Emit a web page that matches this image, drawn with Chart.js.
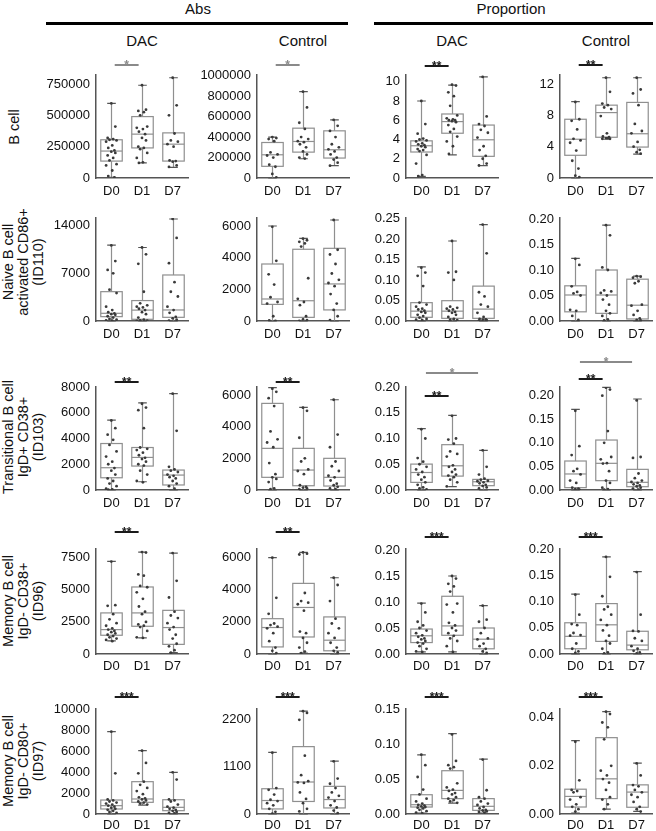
<!DOCTYPE html>
<html>
<head>
<meta charset="utf-8">
<script src="https://cdn.jsdelivr.net/npm/chart.js@4.4.1/dist/chart.umd.min.js"></script>
<style>
  body { margin: 0; background: #fff; }
  #page { position: relative; width: 656px; height: 831px; overflow: hidden;
          font-family: "Liberation Sans", Arial, sans-serif; color: #111; }
  #page canvas { position: absolute; }
  .txt { position: absolute; white-space: nowrap; transform: translate(-50%, -50%); }
  .rule { position: absolute; height: 3px; background: #000; }
  .rowlab { position: absolute; white-space: nowrap; text-align: center; font-size: 14.5px;
            line-height: 15px; transform: translate(-50%, -50%) rotate(-90deg); }
</style>
</head>
<body>
<div id="page"></div>
<script>
const days = ["D0", "D1", "D7"];

// box stats per day: [low whisker, q1, median, q3, high whisker]
// Row 1: B cell
const bcellAbsDacBox = [[5000, 135000, 215000, 305000, 595000], [120000, 240000, 350000, 490000, 740000], [85000, 135000, 270000, 360000, 800000]];
const bcellAbsDacPts = [
  [595000, 410000, 320000, 310000, 305000, 300000, 290000, 260000, 240000, 220000, 210000, 200000, 180000, 160000, 140000, 110000, 100000, 60000, 15000, 5000],
  [740000, 545000, 535000, 525000, 500000, 410000, 400000, 390000, 370000, 350000, 320000, 300000, 250000, 240000, 230000, 200000, 160000, 125000, 120000],
  [800000, 580000, 500000, 355000, 300000, 290000, 270000, 250000, 140000, 135000, 130000, 100000, 88000]];
const bcellAbsCtlBox = [[0, 114000, 227000, 347000, 400000], [188000, 253000, 357000, 487000, 844000], [120000, 195000, 276000, 461000, 568000]];
const bcellAbsCtlPts = [
  [400000, 390000, 380000, 360000, 250000, 230000, 220000, 200000, 130000, 110000, 40000, 5000],
  [844000, 690000, 540000, 480000, 400000, 380000, 360000, 350000, 330000, 300000, 260000, 230000, 200000, 190000],
  [568000, 510000, 460000, 400000, 330000, 300000, 280000, 260000, 230000, 200000, 180000, 150000, 120000]];
const bcellPropDacBox = [[0.17, 2.7, 3.35, 3.86, 8.0], [2.4, 4.65, 5.86, 6.65, 9.65], [1.28, 2.25, 3.97, 5.5, 10.5]];
const bcellPropDacPts = [
  [8.0, 5.6, 4.6, 4.1, 4.0, 3.9, 3.8, 3.6, 3.5, 3.4, 3.3, 3.2, 3.0, 2.9, 2.8, 2.4, 1.5, 0.3, 0.2],
  [9.7, 9.6, 8.9, 8.5, 7.5, 6.5, 6.2, 6.1, 6.0, 6.0, 5.9, 5.8, 5.5, 5.1, 4.8, 4.3, 3.8, 3.3, 2.5],
  [10.5, 6.4, 5.6, 5.4, 5.0, 4.7, 4.2, 3.3, 2.9, 2.3, 2.0, 1.5, 1.3]];
const bcellPropCtlBox = [[0, 2.9, 4.95, 7.5, 9.75], [4.95, 5.2, 8.35, 9.3, 12.8], [3.05, 3.95, 5.65, 9.65, 12.8]];
const bcellPropCtlPts = [
  [9.7, 7.5, 7.3, 6.2, 5.0, 4.8, 4.5, 3.5, 2.2, 1.2, 0.3, 0.1],
  [12.8, 11.0, 9.5, 9.3, 9.0, 8.8, 7.9, 5.7, 5.3, 5.2, 5.1, 5.0, 5.0, 5.1],
  [12.8, 11.3, 10.8, 9.3, 6.9, 6.0, 5.7, 4.6, 4.0, 3.6, 3.3, 3.1]];

// Row 2: Naive B cell activated CD86+
const naiveAbsDacBox = [[0, 640, 1130, 4310, 11160], [0, 250, 1600, 3000, 10800], [0, 540, 1620, 6760, 14980]];
const naiveAbsDacPts = [
  [11100, 8800, 7500, 7000, 4600, 4100, 2100, 1600, 1300, 1100, 1000, 900, 700, 500, 300, 200, 100, 50],
  [10800, 9800, 8400, 4300, 2600, 2300, 2100, 2000, 1800, 1600, 1300, 1000, 500, 200, 100, 50, 20],
  [15000, 12200, 8500, 5700, 4300, 3600, 2100, 1600, 1200, 600, 400, 200, 50]];
const naiveAbsCtlBox = [[0, 1050, 1390, 3600, 6000], [0, 230, 1280, 4530, 5220], [0, 700, 2340, 4590, 6380]];
const naiveAbsCtlPts = [
  [5950, 3800, 2950, 2300, 1500, 1200, 1100, 300, 30, 10],
  [5200, 5100, 5000, 4900, 4700, 2700, 1400, 1200, 1000, 300, 100, 50, 10],
  [6380, 4500, 4200, 3600, 3000, 2600, 2400, 2200, 1700, 1100, 700, 300, 50]];
const naivePropDacBox = [[0, 0.009, 0.024, 0.0447, 0.132], [0, 0.0065, 0.024, 0.0495, 0.195], [0, 0.0065, 0.029, 0.085, 0.235]];
const naivePropDacPts = [
  [0.13, 0.118, 0.11, 0.085, 0.045, 0.04, 0.035, 0.03, 0.028, 0.025, 0.022, 0.02, 0.015, 0.012, 0.008, 0.005, 0.003, 0.002],
  [0.195, 0.12, 0.118, 0.1, 0.035, 0.032, 0.03, 0.028, 0.025, 0.022, 0.02, 0.015, 0.01, 0.005, 0.003, 0.002],
  [0.235, 0.165, 0.07, 0.06, 0.04, 0.035, 0.02, 0.01, 0.005, 0.004, 0.003, 0.002, 0.001]];
const naivePropCtlBox = [[0, 0.018, 0.051, 0.069, 0.123], [0, 0.015, 0.051, 0.1, 0.188], [0, 0.004, 0.031, 0.082, 0.088]];
const naivePropCtlPts = [
  [0.122, 0.11, 0.068, 0.057, 0.054, 0.05, 0.022, 0.02, 0.01, 0.002],
  [0.188, 0.168, 0.105, 0.1, 0.06, 0.058, 0.055, 0.05, 0.042, 0.032, 0.02, 0.015, 0.01, 0.003, 0.001],
  [0.088, 0.087, 0.085, 0.078, 0.074, 0.032, 0.03, 0.02, 0.012, 0.005, 0.002, 0.001]];

// Row 3: Transitional B cell IgD+ CD38+
const transAbsDacBox = [[0, 950, 1730, 3610, 5420], [640, 1860, 2530, 3300, 6760], [0, 390, 1160, 1550, 7480]];
const transAbsDacPts = [
  [5400, 4800, 4300, 3900, 3500, 3000, 2600, 2200, 2000, 1700, 1500, 1200, 900, 700, 500, 300, 100, 50, 20],
  [6700, 6400, 6200, 4800, 3300, 3200, 3100, 2900, 2700, 2500, 2400, 2200, 2000, 1900, 1500, 1200, 700, 600],
  [7480, 4600, 1800, 1600, 1500, 1400, 1200, 1100, 1000, 900, 700, 500, 300, 100]];
const transAbsCtlBox = [[0, 800, 2630, 5470, 6460], [0, 270, 1260, 2630, 5220], [0, 250, 800, 2000, 5700]];
const transAbsCtlPts = [
  [6400, 6200, 5800, 5300, 3700, 3200, 3000, 2700, 1700, 1000, 800, 700, 500, 100, 50],
  [5200, 5000, 3300, 2000, 1800, 1300, 1200, 1000, 300, 200, 150, 100, 50],
  [5700, 3500, 2700, 1800, 1500, 1200, 900, 800, 600, 400, 300, 200, 100, 50]];
const transPropDacBox = [[0, 0.0148, 0.034, 0.0503, 0.119], [0.0065, 0.027, 0.047, 0.088, 0.145], [0, 0.0084, 0.016, 0.0206, 0.077]];
const transPropDacPts = [
  [0.118, 0.1, 0.062, 0.055, 0.05, 0.045, 0.04, 0.035, 0.03, 0.025, 0.02, 0.015, 0.01, 0.005, 0.003, 0.001],
  [0.144, 0.1, 0.098, 0.09, 0.075, 0.07, 0.065, 0.048, 0.045, 0.04, 0.035, 0.03, 0.028, 0.025, 0.02, 0.015, 0.007],
  [0.077, 0.045, 0.03, 0.022, 0.02, 0.018, 0.017, 0.015, 0.013, 0.01, 0.008, 0.005, 0.003]];
const transPropCtlBox = [[0, 0.005, 0.034, 0.0615, 0.171], [0, 0.0198, 0.0566, 0.106, 0.2178], [0, 0.007, 0.0163, 0.0438, 0.193]];
const transPropCtlPts = [
  [0.168, 0.093, 0.074, 0.045, 0.04, 0.033, 0.02, 0.015, 0.005, 0.003, 0.002, 0.001],
  [0.217, 0.213, 0.2, 0.125, 0.1, 0.07, 0.065, 0.057, 0.056, 0.04, 0.02, 0.015, 0.005, 0.002, 0.001],
  [0.19, 0.07, 0.068, 0.035, 0.025, 0.02, 0.017, 0.015, 0.012, 0.01, 0.008, 0.005, 0.003, 0.001]];

// Row 4: Memory B cell IgD- CD38+
const mem38AbsDacBox = [[1020, 1460, 1900, 3200, 7210], [1260, 2160, 3200, 5220, 7940], [100, 750, 2060, 3400, 7860]];
const mem38AbsDacPts = [
  [7200, 3800, 3750, 3100, 2700, 2400, 2200, 2000, 1900, 1800, 1700, 1600, 1500, 1400, 1300, 1200, 1100, 1000],
  [7940, 7900, 6200, 6100, 5300, 5200, 4800, 4300, 3700, 3300, 3100, 2500, 2300, 2200, 2100, 1800, 1300, 1250],
  [7860, 5700, 4400, 3300, 3000, 2800, 2400, 2100, 1900, 1500, 1200, 800, 600, 300, 100]];
const mem38AbsCtlBox = [[0, 440, 1650, 2200, 6000], [50, 1060, 2900, 4400, 6330], [0, 200, 860, 2310, 4750]];
const mem38AbsCtlPts = [
  [6000, 3500, 2500, 1900, 1800, 1700, 1600, 1300, 800, 400, 200, 50],
  [6330, 6250, 6200, 3800, 3300, 3200, 3100, 2700, 1400, 1300, 1000, 700, 400, 150, 50],
  [4750, 4300, 3300, 2200, 1900, 1600, 1300, 1000, 700, 400, 200, 100]];
const mem38PropDacBox = [[0.004, 0.022, 0.035, 0.048, 0.098], [0.004, 0.036, 0.054, 0.111, 0.15], [0, 0.01, 0.0285, 0.05, 0.093]];
const mem38PropDacPts = [
  [0.097, 0.08, 0.062, 0.055, 0.05, 0.045, 0.04, 0.036, 0.033, 0.03, 0.028, 0.025, 0.022, 0.02, 0.015, 0.01, 0.005, 0.004],
  [0.15, 0.145, 0.135, 0.13, 0.12, 0.097, 0.095, 0.08, 0.06, 0.055, 0.05, 0.045, 0.04, 0.035, 0.03, 0.025, 0.015, 0.004],
  [0.093, 0.066, 0.062, 0.05, 0.04, 0.03, 0.028, 0.02, 0.015, 0.01, 0.005, 0.002]];
const mem38PropCtlBox = [[0, 0.01, 0.0336, 0.0595, 0.114], [0, 0.024, 0.0556, 0.096, 0.185], [0, 0.008, 0.017, 0.0433, 0.157]];
const mem38PropCtlPts = [
  [0.113, 0.075, 0.057, 0.055, 0.04, 0.036, 0.035, 0.02, 0.01, 0.005, 0.002],
  [0.185, 0.147, 0.11, 0.09, 0.085, 0.075, 0.065, 0.055, 0.045, 0.035, 0.025, 0.02, 0.01, 0.003, 0.001],
  [0.156, 0.075, 0.044, 0.043, 0.03, 0.025, 0.015, 0.01, 0.006, 0.003, 0.001]];

// Row 5: Memory B cell IgD- CD80+
const mem80AbsDacBox = [[0, 480, 800, 1340, 7890], [860, 1120, 1440, 3100, 6070], [0, 320, 640, 1370, 4000]];
const mem80AbsDacPts = [
  [7890, 3900, 1400, 1300, 1200, 1100, 1000, 900, 800, 700, 600, 500, 400, 300, 200, 100],
  [6070, 4900, 3900, 3100, 2800, 2500, 2200, 1900, 1600, 1500, 1400, 1300, 1200, 1100, 1000, 900],
  [4000, 3300, 1400, 1300, 1200, 900, 700, 600, 500, 400, 300, 200, 100, 50]];
const mem80AbsCtlBox = [[0, 117, 312, 585, 1427], [0, 290, 741, 1560, 2380], [0, 140, 335, 640, 1225]];
const mem80AbsCtlPts = [
  [1420, 600, 560, 450, 330, 300, 250, 200, 120, 50, 10],
  [2380, 2340, 2180, 1350, 900, 760, 730, 720, 500, 350, 250, 120, 60],
  [1220, 820, 700, 600, 500, 420, 380, 300, 200, 150, 80, 20]];
const mem80PropDacBox = [[0.0014, 0.01, 0.0133, 0.0276, 0.0848], [0.0157, 0.022, 0.0338, 0.062, 0.115], [0.0014, 0.0052, 0.011, 0.022, 0.0785]];
const mem80PropDacPts = [
  [0.085, 0.07, 0.053, 0.035, 0.028, 0.022, 0.018, 0.015, 0.013, 0.012, 0.011, 0.01, 0.009, 0.008, 0.006, 0.004, 0.002, 0.001],
  [0.114, 0.076, 0.07, 0.067, 0.065, 0.044, 0.038, 0.035, 0.033, 0.03, 0.028, 0.024, 0.022, 0.02, 0.018, 0.016],
  [0.078, 0.034, 0.024, 0.022, 0.018, 0.015, 0.013, 0.01, 0.008, 0.006, 0.005, 0.004, 0.003, 0.002]];
const mem80PropCtlBox = [[0.0004, 0.0029, 0.0073, 0.0103, 0.0305], [0.002, 0.0064, 0.0146, 0.0317, 0.0425], [0.0011, 0.0028, 0.0091, 0.0121, 0.0211]];
const mem80PropCtlPts = [
  [0.03, 0.014, 0.01, 0.0095, 0.009, 0.007, 0.006, 0.004, 0.003, 0.002, 0.001],
  [0.0425, 0.0415, 0.038, 0.036, 0.031, 0.02, 0.018, 0.016, 0.0145, 0.013, 0.01, 0.007, 0.006, 0.004, 0.002],
  [0.021, 0.016, 0.012, 0.0115, 0.01, 0.009, 0.008, 0.007, 0.005, 0.003, 0.002, 0.001]];

// y tick labels
const ticksB1 = [0, 250000, 500000, 750000];
const ticksB2 = [0, 200000, 400000, 600000, 800000, 1000000];
const ticksB3 = [0, 2, 4, 6, 8, 10];
const ticksB4 = [0, 4, 8, 12];
const ticksN1 = [0, 7000, 14000];
const ticks6k = [0, 2000, 4000, 6000];
const ticksP25 = [0, 0.05, 0.10, 0.15, 0.20, 0.25];
const ticksP20 = [0, 0.05, 0.10, 0.15, 0.20];
const ticks8k = [0, 2000, 4000, 6000, 8000];
const ticks75 = [0, 2500, 5000, 7500];
const ticks10k = [0, 2000, 4000, 6000, 8000, 10000];
const ticks22 = [0, 1100, 2200];
const ticksP15 = [0, 0.05, 0.10, 0.15];
const ticksP04 = [0, 0.02, 0.04];

const rowLabels = [["B cell"], ["Naive B cell", "activated CD86+", "(ID110)"],
  ["Transitional B cell", "IgD+ CD38+", "(ID103)"], ["Memory B cell", "IgD- CD38+", "(ID96)"],
  ["Memory B cell", "IgD- CD80+", "(ID97)"]];

// layout (page pixels)
const colAxisX = [96, 257, 406, 560];
const plotW = 92;
const rowTop = [75, 218, 387, 549, 709];
const rowBot = [178, 321, 490, 654, 814];
const xLabelPad = [6, 6, 6, 5, 4];
const Y_AXIS_W = 70, PAD_TOP = 60, X_AXIS_H = 28, PAD_RIGHT = 6;
const JITTER = [0, 0.13, -0.12, 0.06, -0.06, 0.17, -0.17, 0.03, -0.1, 0.1];

// sig: [from, to, label, offset above plot top]
const panels = [
  { r: 0, c: 0, box: bcellAbsDacBox, pts: bcellAbsDacPts, ticks: ticksB1, max: 821800, dec: 0, sig: [[0, 1, "*", -10]] },
  { r: 0, c: 1, box: bcellAbsCtlBox, pts: bcellAbsCtlPts, ticks: ticksB2, max: 1006800, dec: 0, sig: [[0, 1, "*", -10]] },
  { r: 0, c: 2, box: bcellPropDacBox, pts: bcellPropDacPts, ticks: ticksB3, max: 10.7, dec: 0, sig: [[0, 1, "**", -9]] },
  { r: 0, c: 3, box: bcellPropCtlBox, pts: bcellPropCtlPts, ticks: ticksB4, max: 13.15, dec: 0, sig: [[0, 1, "**", -10]] },
  { r: 1, c: 0, box: naiveAbsDacBox, pts: naiveAbsDacPts, ticks: ticksN1, max: 15130, dec: 0, sig: [] },
  { r: 1, c: 1, box: naiveAbsCtlBox, pts: naiveAbsCtlPts, ticks: ticks6k, max: 6505, dec: 0, sig: [] },
  { r: 1, c: 2, box: naivePropDacBox, pts: naivePropDacPts, ticks: ticksP25, max: 0.251, dec: 2, sig: [] },
  { r: 1, c: 3, box: naivePropCtlBox, pts: naivePropCtlPts, ticks: ticksP20, max: 0.202, dec: 2, sig: [] },
  { r: 2, c: 0, box: transAbsDacBox, pts: transAbsDacPts, ticks: ticks8k, max: 8000, dec: 0, sig: [[0, 1, "**", -5]] },
  { r: 2, c: 1, box: transAbsCtlBox, pts: transAbsCtlPts, ticks: ticks6k, max: 6505, dec: 0, sig: [[0, 1, "**", -5]] },
  { r: 2, c: 2, box: transPropDacBox, pts: transPropDacPts, ticks: ticksP20, max: 0.2, dec: 2, sig: [[0, 1, "**", 9], [0, 2, "*", -14]] },
  { r: 2, c: 3, box: transPropCtlBox, pts: transPropCtlPts, ticks: ticksP20, max: 0.2185, dec: 2, sig: [[0, 1, "**", -8], [0, 2, "*", -25]] },
  { r: 3, c: 0, box: mem38AbsDacBox, pts: mem38AbsDacPts, ticks: ticks75, max: 8178, dec: 0, sig: [[0, 1, "**", -17]] },
  { r: 3, c: 1, box: mem38AbsCtlBox, pts: mem38AbsCtlPts, ticks: ticks6k, max: 6542, dec: 0, sig: [[0, 1, "**", -17]] },
  { r: 3, c: 2, box: mem38PropDacBox, pts: mem38PropDacPts, ticks: ticksP20, max: 0.2019, dec: 2, sig: [[0, 1, "***", -12]] },
  { r: 3, c: 3, box: mem38PropCtlBox, pts: mem38PropCtlPts, ticks: ticksP20, max: 0.2, dec: 2, sig: [[0, 1, "***", -12]] },
  { r: 4, c: 0, box: mem80AbsDacBox, pts: mem80AbsDacPts, ticks: ticks10k, max: 10067, dec: 0, sig: [[0, 1, "***", -12]] },
  { r: 4, c: 1, box: mem80AbsCtlBox, pts: mem80AbsCtlPts, ticks: ticks22, max: 2431, dec: 0, sig: [[0, 1, "***", -12]] },
  { r: 4, c: 2, box: mem80PropDacBox, pts: mem80PropDacPts, ticks: ticksP15, max: 0.1504, dec: 2, sig: [[0, 1, "***", -12]] },
  { r: 4, c: 3, box: mem80PropCtlBox, pts: mem80PropCtlPts, ticks: ticksP04, max: 0.0436, dec: 2, sig: [[0, 1, "***", -12]] },
];

Chart.defaults.font.family = "'Liberation Sans', Arial, sans-serif";
Chart.defaults.color = "#111";

// draws whiskers, boxes and medians from the stats through the scales
const boxPlugin = {
  id: "boxes",
  beforeDatasetsDraw(chart, args, opts) {
    const { ctx } = chart;
    const x = chart.scales.x, y = chart.scales.y;
    ctx.save();
    opts.stats.forEach((s, i) => {
      const [lo, q1, med, q3, hi] = s;
      const cx = Math.round(x.getPixelForValue(i)) + 0.5;
      const hw = x.getPixelForValue(i + 0.35) - x.getPixelForValue(i);
      const cw = x.getPixelForValue(i + 0.14) - x.getPixelForValue(i);
      const yLo = y.getPixelForValue(lo), yQ1 = y.getPixelForValue(q1);
      const yMed = y.getPixelForValue(med), yQ3 = y.getPixelForValue(q3);
      const yHi = y.getPixelForValue(hi);
      ctx.strokeStyle = "#8f8f8f";
      ctx.lineWidth = 1.2;
      ctx.beginPath();
      ctx.moveTo(cx, yHi); ctx.lineTo(cx, yQ3);
      ctx.moveTo(cx, yQ1); ctx.lineTo(cx, yLo);
      ctx.stroke();
      ctx.strokeRect(cx - hw, yQ3, 2 * hw, yQ1 - yQ3);
      ctx.beginPath();
      ctx.moveTo(cx - hw, yMed); ctx.lineTo(cx + hw, yMed);
      ctx.stroke();
      ctx.strokeStyle = "#555";
      ctx.lineWidth = 1.2;
      ctx.beginPath();
      ctx.moveTo(cx - cw, yHi); ctx.lineTo(cx + cw, yHi);
      ctx.moveTo(cx - cw, yLo); ctx.lineTo(cx + cw, yLo);
      ctx.stroke();
    });
    ctx.restore();
  },
};

// significance bars above the plot
const sigPlugin = {
  id: "sig",
  afterDraw(chart, args, opts) {
    const { ctx, chartArea } = chart;
    const x = chart.scales.x;
    ctx.save();
    opts.marks.forEach(([from, to, label, dy]) => {
      const col = label === "*" ? "#8a8a8a" : "#1a1a1a";
      const inset = to - from > 1 ? 0.15 : 0.11;
      const x1 = x.getPixelForValue(from + inset), x2 = x.getPixelForValue(to - inset);
      const yb = chartArea.top + dy;
      ctx.strokeStyle = col;
      ctx.lineWidth = 2;
      ctx.beginPath();
      ctx.moveTo(x1, yb); ctx.lineTo(x2, yb);
      ctx.stroke();
      ctx.fillStyle = col;
      ctx.font = "bold 12px 'Liberation Sans', Arial, sans-serif";
      ctx.textAlign = "center";
      ctx.textBaseline = "alphabetic";
      ctx.fillText(label, (x1 + x2) / 2, yb + 4);
    });
    ctx.restore();
  },
};

const page = document.getElementById("page");

function addText(str, x, y, size) {
  const d = document.createElement("div");
  d.className = "txt";
  d.style.left = x + "px";
  d.style.top = y + "px";
  d.style.fontSize = size + "px";
  d.textContent = str;
  page.appendChild(d);
}

function addRule(x1, x2, y) {
  const d = document.createElement("div");
  d.className = "rule";
  d.style.left = x1 + "px";
  d.style.width = (x2 - x1) + "px";
  d.style.top = (y - 1.5) + "px";
  page.appendChild(d);
}

// headers
addText("Abs", 198, 8, 15);
addText("Proportion", 511, 8, 15);
addRule(46, 348, 23);
addRule(374, 653, 23);
["DAC", "Control", "DAC", "Control"].forEach((t, c) => addText(t, colAxisX[c] + plotW / 2, 40, 15));

// row labels
const rowLabelY = [127, 262, 437, 601, 761];
rowLabels.forEach((lines, r) => {
  const d = document.createElement("div");
  d.className = "rowlab";
  d.style.left = (lines.length === 1 ? 14 : 23) + "px";
  d.style.top = rowLabelY[r] + "px";
  d.innerHTML = lines.join("<br>");
  page.appendChild(d);
});

panels.forEach((p) => {
  const plotH = rowBot[p.r] - rowTop[p.r];
  const cv = document.createElement("canvas");
  const W = Y_AXIS_W + plotW + PAD_RIGHT;
  const H = PAD_TOP + plotH + X_AXIS_H;
  cv.width = W;
  cv.height = H;
  cv.style.width = W + "px";
  cv.style.height = H + "px";
  let left = colAxisX[p.c] - Y_AXIS_W;
  let top = rowTop[p.r] - PAD_TOP;
  cv.style.left = left + "px";
  cv.style.top = top + "px";
  page.appendChild(cv);

  const points = [];
  p.pts.forEach((vals, i) => {
    vals.forEach((v, k) => points.push({ x: i + JITTER[k % JITTER.length], y: v }));
  });

  const chart = new Chart(cv.getContext("2d"), {
    type: "scatter",
    data: {
      datasets: [{
        data: points,
        pointRadius: 1.4,
        pointBackgroundColor: "#3a3a3a",
        pointBorderWidth: 0,
      }],
    },
    plugins: [boxPlugin, sigPlugin],
    options: {
      responsive: false,
      animation: false,
      events: [],
      layout: { padding: { top: PAD_TOP, right: PAD_RIGHT, left: 0, bottom: 0 } },
      plugins: {
        legend: { display: false },
        tooltip: { enabled: false },
        boxes: { stats: p.box },
        sig: { marks: p.sig },
      },
      scales: {
        x: {
          type: "linear",
          min: -0.5,
          max: 2.5,
          afterBuildTicks: (s) => { s.ticks = days.map((d, i) => ({ value: i })); },
          afterFit: (s) => { s.height = X_AXIS_H; },
          grid: { display: false, drawTicks: false },
          border: { display: true, color: "#555", width: 1.5 },
          ticks: { autoSkip: false, maxRotation: 0, padding: xLabelPad[p.r], font: { size: 13 },
                   callback: (v) => days[v] },
        },
        y: {
          type: "linear",
          min: 0,
          max: p.max,
          afterBuildTicks: (s) => { s.ticks = p.ticks.map((v) => ({ value: v })); },
          afterFit: (s) => { s.width = Y_AXIS_W; },
          grid: { display: false, drawTicks: false },
          border: { display: true, color: "#555", width: 1.5 },
          ticks: { autoSkip: false, padding: 6, font: { size: 13 },
                   callback: (v) => (p.dec ? v.toFixed(p.dec) : String(v)) },
        },
      },
    },
  });

  // keep the plot area where the reference has it
  const dx = colAxisX[p.c] - (left + chart.chartArea.left);
  const dy = rowTop[p.r] - (top + chart.chartArea.top);
  if (dx || dy) {
    cv.style.left = (left + dx) + "px";
    cv.style.top = (top + dy) + "px";
  }
});
</script>
</body>
</html>
